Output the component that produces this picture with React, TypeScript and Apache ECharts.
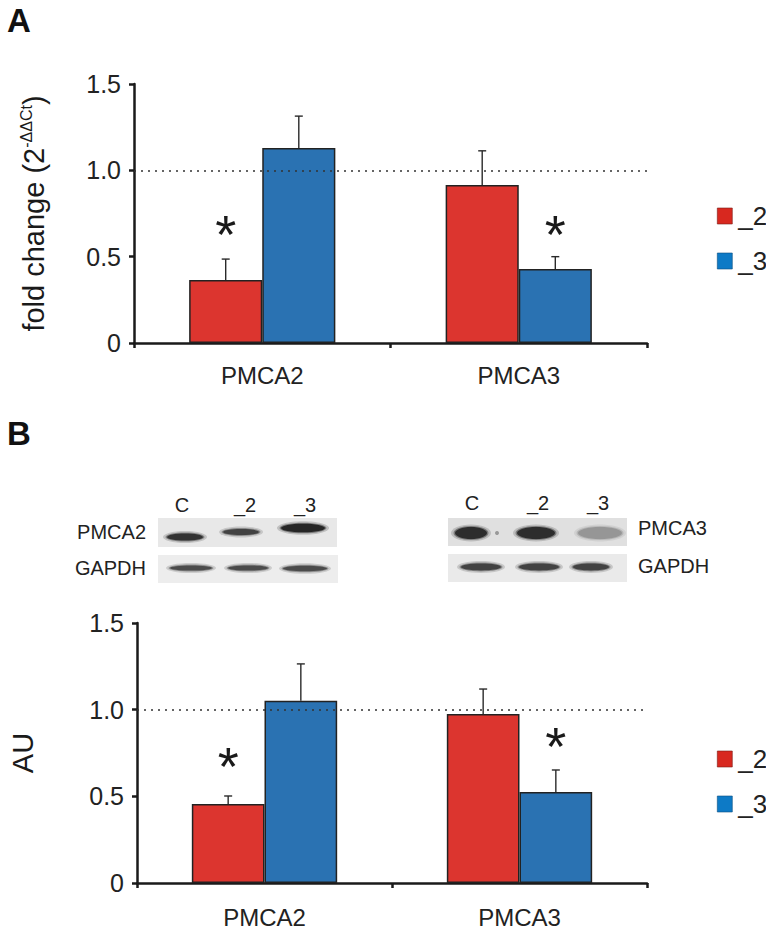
import React, { useEffect, useRef } from "react";
import * as echarts from "echarts";

// ---------- data ----------
const categories = ["PMCA2", "PMCA3"];
const seriesNames = ["_2", "_3"];
const yTicks = [0, 0.5, 1.0, 1.5];
const refLine = 1.0;

// Panel A: qPCR fold change (2^-ΔΔCt)
const qpcr2 = [0.365, 0.915];
const qpcr2Err = [0.121, 0.198];
const qpcr3 = [1.129, 0.428];
const qpcr3Err = [0.185, 0.072];
// significance marks: [categoryIndex, seriesIndex, y]
const sigA = [
  [0, 0, 0.666],
  [1, 1, 0.666],
];

// Panel B: western blot densitometry (AU)
const wb2 = [0.456, 0.975];
const wb2Err = [0.046, 0.144];
const wb3 = [1.052, 0.525];
const wb3Err = [0.212, 0.127];
const sigB = [
  [0, 0, 0.71],
  [1, 1, 0.825],
];

const lanes = ["C", "_2", "_3"];
const blotRowsLeft = ["PMCA2", "GAPDH"];
const blotRowsRight = ["PMCA3", "GAPDH"];

// ---------- styles ----------
const FONT = "'Liberation Sans', Arial, Helvetica, sans-serif";
const RED = "#dc352f";
const BLUE = "#2a72b2";
const LEG_RED = "#d8281f";
const LEG_BLUE = "#0d7ac6";
const INK = "#1a1a1a";

const BAR_FRACTION = 0.57; // share of category occupied by both bars

function errData(v: number[], e: number[], s: number) {
  return v.map((val, i) => [i, s, val, e[i]]);
}

function errRender(params: any, api: any) {
  const cat = api.value(0);
  const s = api.value(1);
  const v = api.value(2);
  const e = api.value(3);
  const base = api.coord([cat, v]);
  const top = api.coord([cat, v + e]);
  const band = api.size([1, 0])[0];
  const x = base[0] + (s === 0 ? -1 : 1) * band * BAR_FRACTION / 4;
  const st = { stroke: "#2a2a2a", lineWidth: 1.4 };
  return {
    type: "group",
    children: [
      { type: "line", shape: { x1: x, y1: base[1], x2: x, y2: top[1] }, style: st },
      { type: "line", shape: { x1: x - 4, y1: top[1], x2: x + 4, y2: top[1] }, style: st },
    ],
  };
}

function sigRender(params: any, api: any) {
  const cat = api.value(0);
  const s = api.value(1);
  const y = api.value(2);
  const c = api.coord([cat, y]);
  const band = api.size([1, 0])[0];
  const x = c[0] + (s === 0 ? -1 : 1) * band * BAR_FRACTION / 4;
  return {
    type: "text",
    x,
    y: c[1] + 6,
    style: {
      text: "*",
      fontSize: 54,
      fontFamily: FONT,
      fill: INK,
      align: "center",
      verticalAlign: "middle",
    },
  };
}

function barSeries(name: string, data: number[], color: string, idx: number, withLine: boolean) {
  const s: any = {
    name,
    type: "bar",
    xAxisIndex: idx,
    yAxisIndex: idx,
    data,
    barGap: "0%",
    barCategoryGap: "43%",
    itemStyle: { color, borderColor: "#222", borderWidth: 1.5 },
  };
  if (withLine) {
    s.markLine = {
      silent: true,
      symbol: "none",
      label: { show: false },
      lineStyle: { type: [2, 5], color: "#333", width: 1.5 },
      data: [{ yAxis: refLine }],
    };
  }
  return s;
}

function yAxisCfg(idx: number, name: string, nameGap: number, rich: any) {
  return {
    type: "value",
    gridIndex: idx,
    min: yTicks[0],
    max: yTicks[yTicks.length - 1],
    interval: 0.5,
    name,
    nameLocation: "middle",
    nameGap,
    nameRotate: 90,
    nameTextStyle: { fontFamily: FONT, color: INK, rich },
    splitLine: { show: false },
    axisLine: { show: true, lineStyle: { color: INK, width: 2.5 } },
    axisTick: { show: true, length: 5, lineStyle: { color: INK, width: 2.5 } },
    axisLabel: {
      fontSize: 25,
      fontFamily: FONT,
      color: "#222",
      margin: 13,
      formatter: (v: number) => (v === 0 ? "0" : v.toFixed(1)),
    },
  };
}

function xAxisCfg(idx: number, margin: number) {
  return {
    type: "category",
    gridIndex: idx,
    data: categories,
    axisLine: { show: true, lineStyle: { color: INK, width: 2.5 } },
    axisTick: { show: true, length: 5, lineStyle: { color: INK, width: 2.5 } },
    axisLabel: { fontSize: 24, fontFamily: FONT, color: "#222", margin },
  };
}

function legendCfg(top: number) {
  return {
    orient: "vertical",
    left: 712,
    top,
    itemWidth: 15,
    itemHeight: 16,
    itemGap: 19,
    icon: "rect",
    selectedMode: false,
    textStyle: { fontSize: 26, fontFamily: FONT, color: "#222", lineHeight: 25, padding: [0, 0, 0, 1] },
    data: [
      { name: seriesNames[0], itemStyle: { color: LEG_RED, borderColor: "#7a1d15", borderWidth: 0.6 } },
      { name: seriesNames[1], itemStyle: { color: LEG_BLUE, borderColor: "#0b4f80", borderWidth: 0.6 } },
    ],
  };
}

// ---------- blot drawing (decorative) ----------
type Band = [number, number, number, number, string]; // cx, cy, rx, ry, color
function band(b: Band) {
  const [cx, cy, rx, ry, color] = b;
  return [
    { type: "ellipse", shape: { cx, cy, rx: rx + 4, ry: ry + 2.5 }, style: { fill: color, opacity: 0.18 } },
    { type: "ellipse", shape: { cx, cy, rx: rx + 1.5, ry: ry + 1 }, style: { fill: color, opacity: 0.4 } },
    { type: "ellipse", shape: { cx, cy, rx, ry }, style: { fill: color, opacity: 0.8 } },
  ];
}

function blotGraphics() {
  const els: any[] = [];
  const strips = [
    [158, 518, 179, 29, "#e8e8e8"],
    [158, 555, 180, 28, "#ededed"],
    [448, 518, 179, 28, "#e0e0e0"],
    [448, 554, 179, 28, "#eaeaea"],
  ];
  strips.forEach(([x, y, w, h, c]) =>
    els.push({ type: "rect", shape: { x, y, width: w, height: h }, style: { fill: c } })
  );
  const bands: Band[] = [
    [185, 537, 18, 3.6, "#1f1f1f"],
    [241, 532, 18, 3, "#303030"],
    [303, 528, 22, 4.3, "#111111"],
    [191, 568, 21, 2.6, "#3a3a3a"],
    [248, 568, 20, 2.6, "#3a3a3a"],
    [305, 568.5, 22, 2.8, "#3a3a3a"],
    [471, 533, 16, 6, "#1a1a1a"],
    [536, 533, 19, 6, "#1a1a1a"],
    [600, 533, 22, 6, "#8e8e8e"],
    [481, 567, 20, 3.4, "#2f2f2f"],
    [539, 567, 20, 3.4, "#2f2f2f"],
    [591, 567, 18, 3.4, "#2f2f2f"],
  ];
  bands.forEach((b) => els.push(...band(b)));
  els.push({ type: "circle", shape: { cx: 497, cy: 533, r: 2 }, style: { fill: "#999" } });

  const txt = (text: string, x: number, y: number, align: string, size = 20) => ({
    type: "text",
    x,
    y,
    style: { text, fontSize: size, fontFamily: FONT, fill: "#222", align, verticalAlign: "middle" },
  });
  const leftLaneX = [182, 245, 305];
  const rightLaneX = [472, 538, 598];
  lanes.forEach((l, i) => {
    els.push(txt(l, leftLaneX[i], 505, "center"));
    els.push(txt(l, rightLaneX[i], 503, "center"));
  });
  els.push(txt(blotRowsLeft[0], 146, 532, "right"));
  els.push(txt(blotRowsLeft[1], 146, 568, "right"));
  els.push(txt(blotRowsRight[0], 638, 528, "left"));
  els.push(txt(blotRowsRight[1], 638, 566, "left"));
  return els;
}

export default function App() {
  const ref = useRef<HTMLDivElement>(null);
  useEffect(() => {
    if (!ref.current) return;
    const chart = echarts.init(ref.current, undefined, { renderer: "svg" });
    const option: any = {
      animation: false,
      backgroundColor: "#ffffff",
      textStyle: { fontFamily: FONT },
      grid: [
        { left: 134, top: 84, width: 513, height: 259 },
        { left: 137, top: 623, width: 510, height: 260 },
      ],
      xAxis: [xAxisCfg(0, 20), xAxisCfg(1, 22)],
      yAxis: [
        yAxisCfg(0, "{a|fold change (2}{s|-ΔΔCt}{a|)}", 84, {
          a: { fontSize: 29, fontFamily: FONT, color: INK, lineHeight: 32 },
          s: { fontSize: 16, fontFamily: FONT, color: INK, verticalAlign: "top", lineHeight: 32 },
        }),
        yAxisCfg(1, "{a|AU}", 99, {
          a: { fontSize: 29, fontFamily: FONT, color: INK, lineHeight: 30 },
        }),
      ],
      legend: [legendCfg(198), legendCfg(741)],
      series: [
        barSeries(seriesNames[0], qpcr2, RED, 0, false),
        barSeries(seriesNames[1], qpcr3, BLUE, 0, true),
        barSeries(seriesNames[0], wb2, RED, 1, false),
        barSeries(seriesNames[1], wb3, BLUE, 1, true),
        {
          type: "custom",
          xAxisIndex: 0,
          yAxisIndex: 0,
          z: 5,
          renderItem: errRender,
          encode: { x: 0, y: 2 },
          data: [...errData(qpcr2, qpcr2Err, 0), ...errData(qpcr3, qpcr3Err, 1)],
        },
        {
          type: "custom",
          xAxisIndex: 1,
          yAxisIndex: 1,
          z: 5,
          renderItem: errRender,
          encode: { x: 0, y: 2 },
          data: [...errData(wb2, wb2Err, 0), ...errData(wb3, wb3Err, 1)],
        },
        {
          type: "custom",
          xAxisIndex: 0,
          yAxisIndex: 0,
          z: 6,
          renderItem: sigRender,
          encode: { x: 0, y: 2 },
          data: sigA,
        },
        {
          type: "custom",
          xAxisIndex: 1,
          yAxisIndex: 1,
          z: 6,
          renderItem: sigRender,
          encode: { x: 0, y: 2 },
          data: sigB,
        },
      ],
      graphic: [
        {
          type: "text",
          left: 7,
          top: 4,
          style: { text: "A", fontSize: 33, fontWeight: "bold", fontFamily: FONT, fill: "#111" },
        },
        {
          type: "text",
          left: 7,
          top: 417,
          style: { text: "B", fontSize: 33, fontWeight: "bold", fontFamily: FONT, fill: "#111" },
        },
        ...blotGraphics(),
      ],
    };
    chart.setOption(option);
    return () => chart.dispose();
  }, []);
  return (
    <div
      ref={ref}
      style={{ position: "fixed", left: 0, top: 0, width: 766, height: 933, background: "#fff" }}
    />
  );
}
